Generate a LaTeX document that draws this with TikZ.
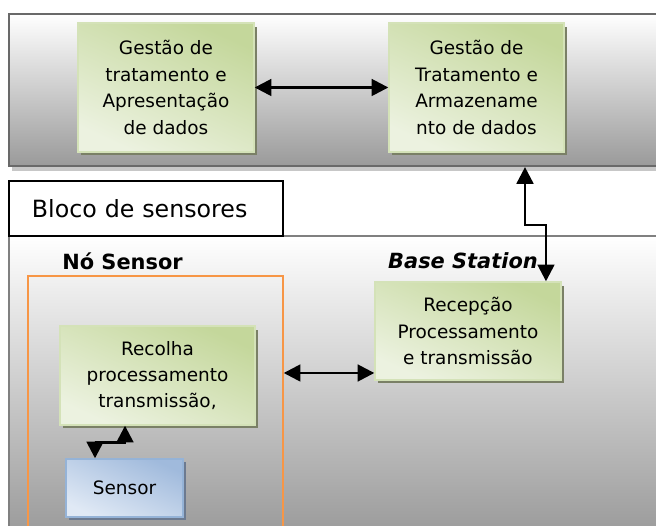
\documentclass[tikz,border=0pt]{standalone}
\usepackage{fontspec}
\setmainfont{DejaVu Sans}
\usetikzlibrary{arrows.meta, calc, shadows}

\definecolor{gdark}{RGB}{196,215,155}
\definecolor{glight}{RGB}{236,242,224}
\definecolor{gedge}{RGB}{212,226,184}
\definecolor{gshade}{RGB}{122,128,102}
\definecolor{bdark}{RGB}{160,186,220}
\definecolor{blight}{RGB}{224,233,245}
\definecolor{bedge}{RGB}{149,179,215}
\definecolor{bshade}{RGB}{108,122,144}
\definecolor{panelgray}{RGB}{154,154,154}
\definecolor{paneledge}{RGB}{105,105,105}
\definecolor{nsorange}{RGB}{247,150,70}

\begin{document}
\begin{tikzpicture}[
  x=0.02cm, y=-0.02cm,
  panel/.style={
    draw=paneledge, line width=1.2pt, anchor=north west, inner sep=0pt,
    top color=white, bottom color=panelgray
  },
  gbox/.style={
    draw=gedge, line width=0.8pt,
    top color=gdark, bottom color=glight, shading angle=-25,
    drop shadow={shadow xshift=0.06cm, shadow yshift=-0.07cm, fill=gshade, opacity=1},
    font=\fontsize{10.5}{15}\selectfont, align=center, inner sep=2pt
  },
  bbox/.style={
    draw=bedge, line width=0.8pt,
    top color=bdark, bottom color=blight, shading angle=-25,
    drop shadow={shadow xshift=0.06cm, shadow yshift=-0.06cm, fill=bshade, opacity=1},
    font=\fontsize{10.5}{15}\selectfont, align=center
  },
  title/.style={font=\fontsize{11.9}{14}\selectfont\bfseries},
  biarrow/.style={
    {Triangle[length=9.5pt, width=9.5pt]}-{Triangle[length=9.5pt, width=9.5pt]},
    line width=1.5pt, draw=black
  }
]
\clip (0,0) rectangle (656,526);
\fill[white] (0,0) rectangle (656,526);

% upper block: data management
\node[panel, minimum width=13.2cm, minimum height=3.04cm,
  drop shadow={shadow xshift=0.06cm, shadow yshift=-0.1cm, fill=black!22, opacity=1}]
  (gestao) at (8,13) {};
\node[gbox, minimum width=3.52cm, minimum height=2.58cm] (apres) at (166,87.5)
  {Gestão de\\tratamento e\\Apresentação\\de dados};
\node[gbox, minimum width=3.5cm, minimum height=2.58cm] (armaz) at (476.5,87.5)
  {Gestão de\\Tratamento e\\Armazename\\nto de dados};
\draw[biarrow] (apres) -- (armaz);

% lower block: sensors
\node[panel, draw=black!50, minimum width=13.2cm, minimum height=6cm] (sensores) at (8,235) {};
\node[draw=black, line width=1.1pt, fill=white, anchor=north west,
  minimum width=5.48cm, minimum height=1.1cm, inner xsep=0.46cm,
  text width=4.56cm, align=left, font=\fontsize{13.5}{16}\selectfont]
  (bloco) at (8,180) {Bloco de sensores};

\node[draw=nsorange, line width=1pt, anchor=north west, inner sep=0pt,
  minimum width=5.1cm, minimum height=5.2cm] (nosensor) at (27,275) {};
\node[title] (nstitle) at (122.5,261) {Nó Sensor};
\node[title, font=\fontsize{11.9}{14}\selectfont\bfseries\itshape] (bstitle) at (463,261) {Base Station};

\node[gbox, minimum width=3.9cm, minimum height=1.98cm] (recolha) at (157.5,375.5)
  {Recolha\\processamento\\transmissão,};
\node[bbox, minimum width=2.34cm, minimum height=1.16cm] (sensor) at (124.5,488) {Sensor};
\node[gbox, minimum width=3.72cm, minimum height=1.96cm] (recep) at (468,331)
  {Recepção\\Processamento\\e transmissão};

\draw[biarrow] ([xshift=-0.59cm]sensor.north) -- ++(0,-16) -| ([xshift=-0.65cm]recolha.south);
\draw[biarrow] ($(nosensor.east |- recep.center)+(0,42)$) -- ($(recep.west)+(0,42)$);
\draw[biarrow] ($(armaz.south |- gestao.south)+(48.5,0)$) -- ++(0,58) -| ([xshift=1.56cm]recep.north);
\end{tikzpicture}
\end{document}
